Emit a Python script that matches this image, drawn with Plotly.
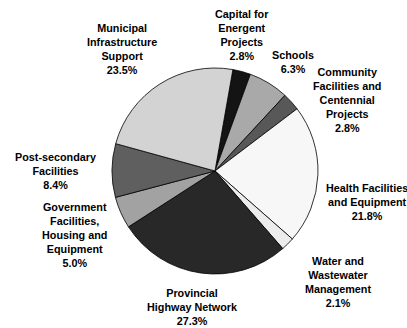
import plotly.graph_objects as go

W, H = 407, 328

labels = ["Capital for Energent Projects", "Schools",
          "Community Facilities and Centennial Projects",
          "Health Facilities and Equipment", "Water and Wastewater Management",
          "Provincial Highway Network", "Government Facilities, Housing and Equipment",
          "Post-secondary Facilities", "Municipal Infrastructure Support"]
label_lines = [["Capital for", "Energent", "Projects"], ["Schools"],
               ["Community", "Facilities and", "Centennial", "Projects"],
               ["Health Facilities", "and Equipment"],
               ["Water and", "Wastewater", "Management"],
               ["Provincial", "Highway Network"],
               ["Government", "Facilities,", "Housing and", "Equipment"],
               ["Post-secondary", "Facilities"],
               ["Municipal", "Infrastructure", "Support"]]
values = [2.8, 6.3, 2.8, 21.8, 2.1, 27.3, 5.0, 8.4, 23.5]
colors = ["#141414", "#a9a9a9", "#585858", "#f7f7f7", "#ececec",
          "#282828", "#a2a2a2", "#5f5f5f", "#d3d3d3"]

# label centre positions in pixels (layout)
label_pos = [(242, 35), (293, 61.5), (347, 99.5), (367, 202), (338, 281.5),
             (192, 307), (74, 234.5), (55, 171), (122, 49.5)]

cx, cy, r = 215, 171, 103

fig = go.Figure(go.Pie(
    labels=labels, values=values, sort=False, direction="clockwise",
    rotation=10, textinfo="none", hoverinfo="label+percent",
    marker=dict(colors=colors, line=dict(color="#000000", width=0.8)),
    domain=dict(x=[(cx - r) / W, (cx + r) / W],
                y=[(H - cy - r) / H, (H - cy + r) / H]),
    showlegend=False,
))

for lines, v, (px, py) in zip(label_lines, values, label_pos):
    fig.add_annotation(
        x=px / W, y=1 - py / H, xref="paper", yref="paper",
        text="<br>".join("<b>" + s + "</b>" for s in lines + [f"{v:.1f}%"]),
        showarrow=False, xanchor="center", yanchor="middle", align="center",
        font=dict(family="Liberation Sans, Arial, sans-serif", size=10.8,
                  color="#000000"),
    )

fig.update_layout(
    width=W, height=H, margin=dict(l=0, r=0, t=0, b=0),
    paper_bgcolor="white", plot_bgcolor="white",
    font=dict(family="Liberation Sans, Arial, sans-serif", size=10.8),
)

fig.write_html("out.html")
